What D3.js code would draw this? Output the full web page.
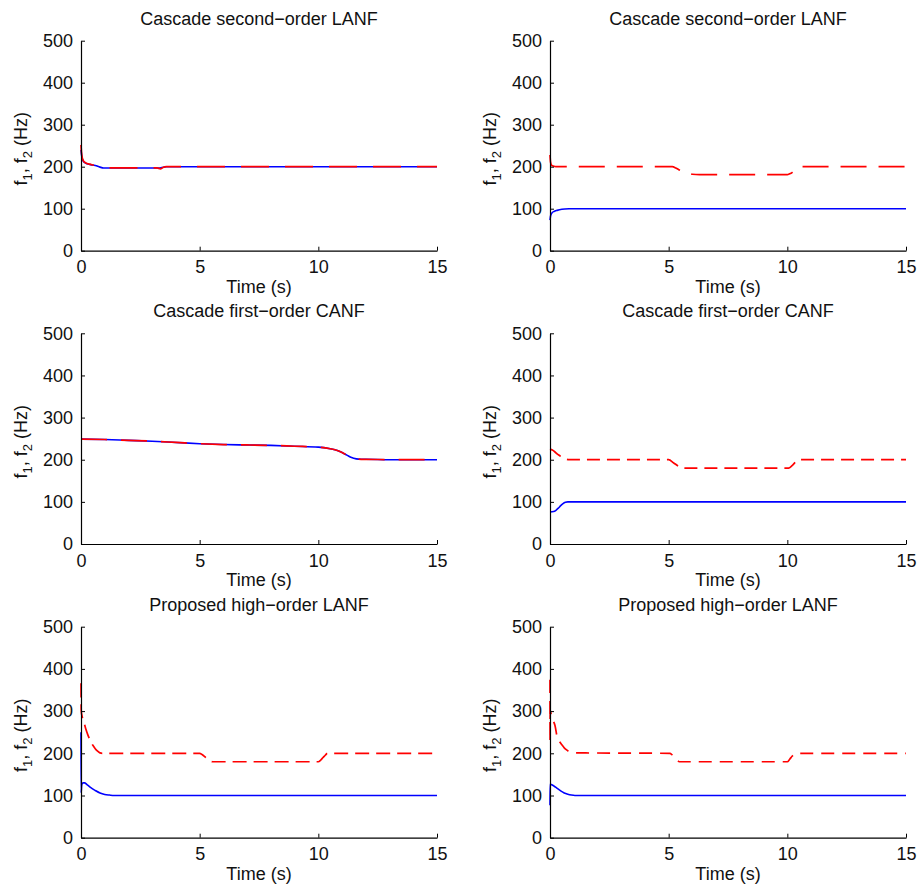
<!DOCTYPE html>
<html>
<head>
<meta charset="utf-8">
<script src="https://cdn.jsdelivr.net/npm/d3@7"></script>
<style>
  html, body { margin: 0; padding: 0; background: #fff; }
  svg { display: block; }
  text { font-family: "Liberation Sans", Arial, Helvetica, sans-serif; fill: #111; }
</style>
</head>
<body>
<svg id="chart" width="920" height="887"></svg>
<script>
// ---------------- DATA ----------------
const titles = [
  "Cascade second\u2212order LANF", "Cascade second\u2212order LANF",
  "Cascade first\u2212order CANF", "Cascade first\u2212order CANF",
  "Proposed high\u2212order LANF", "Proposed high\u2212order LANF"
];
const xTicks = [0, 5, 10, 15];
const yTicks = [0, 100, 200, 300, 400, 500];
const xLabel = "Time (s)";

// Panel 1: Cascade second-order LANF (left)
const p1_t1 = [0, 0.03, 0.08, 0.15, 0.25, 0.4, 0.6, 0.8, 0.95, 1.2, 2, 3.3, 3.4, 3.6, 5, 10, 15];
const p1_f1 = [240, 225, 215, 210, 207, 205, 203, 199, 197, 197, 197, 197, 198, 200, 200, 200, 200];
const p1_t2 = [0, 0.02, 0.05, 0.1, 0.2, 0.35, 0.5, 0.7, 0.95, 1.2, 2, 3.2, 3.35, 3.45, 3.6, 5, 10, 15];
const p1_f2 = [252, 235, 222, 214, 209, 206, 204, 202, 197, 197, 197, 197, 195, 198, 200, 200, 200, 200];

// Panel 2: Cascade second-order LANF (right)
const p2_t1 = [0, 0.02, 0.05, 0.1, 0.17, 0.3, 0.5, 0.8, 1.0, 5, 15];
const p2_f1 = [73, 82, 87, 91, 93.5, 96, 98.5, 99.8, 100, 100, 100];
const p2_t2 = [0, 0.02, 0.05, 0.1, 0.2, 0.3, 1, 5.15, 5.3, 5.45, 5.6, 5.8, 6.0, 6.3, 10.0, 10.1, 10.2, 10.3, 10.4, 10.5, 15];
const p2_f2 = [228, 212, 205, 202, 200.5, 200, 200, 200, 197, 192, 187, 184, 182, 181, 181, 183, 186, 191, 196, 200, 200];

// Panel 3: Cascade first-order CANF (left)
const p3_t1 = [0, 1, 2, 3, 4, 5, 6, 7, 8, 9, 10, 10.5, 10.8, 11, 11.2, 11.4, 11.6, 11.8, 12, 13, 15];
const p3_f1 = [249, 248, 246, 244, 241, 238, 236, 235, 234, 232, 230, 226, 222, 217, 211, 205, 202, 201, 201, 200, 200];
const p3_t2 = [0, 1, 2, 3, 4, 5, 6, 7, 8, 9, 10, 10.5, 10.8, 11, 11.2, 11.4, 11.6, 11.8, 12, 13, 15];
const p3_f2 = [249, 248, 246, 244, 241, 238, 236, 235, 234, 232, 230, 226, 222, 217, 211, 205, 202, 201, 201, 200, 200];

// Panel 4: Cascade first-order CANF (right)
const p4_t1 = [0, 0.15, 0.25, 0.35, 0.45, 0.55, 0.65, 0.75, 1, 15];
const p4_f1 = [76, 77, 80, 85, 91, 96, 99, 100, 100, 100];
const p4_t2 = [0, 0.1, 0.2, 0.3, 0.4, 0.5, 0.6, 0.7, 0.8, 5.0, 5.2, 5.4, 5.55, 10.05, 10.2, 10.35, 10.45, 15];
const p4_f2 = [225, 223, 219, 214, 210, 206, 203, 201, 200, 200, 193, 185, 180, 180, 186, 195, 200, 200];

// Panel 5: Proposed high-order LANF (left)
const p5_t1 = [0, 0.005, 0.03, 0.08, 0.15, 0.25, 0.4, 0.6, 0.8, 1.0, 1.2, 1.4, 15];
const p5_f1 = [250, 106, 125, 130, 130, 126, 119, 112, 106, 102.5, 101, 100, 100];
const p5_t2 = [0, 0.01, 0.05, 0.1, 0.2, 0.3, 0.4, 0.5, 0.6, 0.7, 0.8, 0.9, 5.0, 5.1, 5.25, 5.4, 5.55, 10.0, 10.1, 10.2, 10.3, 10.38, 15];
const p5_f2 = [366, 300, 287, 279, 258, 242, 229, 219, 211, 205, 201, 200, 200, 197, 190, 183, 180, 180, 184, 190, 196, 200, 200];

// Panel 6: Proposed high-order LANF (right)
const p6_t1 = [0, 0.005, 0.05, 0.15, 0.3, 0.45, 0.6, 0.75, 0.9, 1.05, 15];
const p6_f1 = [77, 127, 126, 123, 117, 111, 106, 103, 101, 100, 100];
const p6_t2 = [0, 0.003, 0.006, 0.05, 0.1, 0.21, 0.31, 0.4, 0.5, 0.6, 0.7, 0.8, 0.95, 5.05, 5.15, 5.25, 5.35, 5.45, 10.0, 10.1, 10.2, 10.3, 10.4, 15];
const p6_f2 = [374, 228, 302, 292, 282, 266, 237, 228, 220, 213, 208, 204, 201, 200, 196, 190, 184, 180, 180, 186, 193, 198, 200, 200];

// ---------------- LAYOUT ----------------
const panels = [
  { t1: p1_t1, f1: p1_f1, t2: p1_t2, f2: p1_f2, dash: "28,16" },
  { t1: p2_t1, f1: p2_f1, t2: p2_t2, f2: p2_f2, dash: "26,12" },
  { t1: p3_t1, f1: p3_f1, t2: p3_t2, f2: p3_f2, dash: "26,14" },
  { t1: p4_t1, f1: p4_f1, t2: p4_t2, f2: p4_f2, dash: "13,7" },
  { t1: p5_t1, f1: p5_f1, t2: p5_t2, f2: p5_f2, dash: "14,7" },
  { t1: p6_t1, f1: p6_f1, t2: p6_t2, f2: p6_f2, dash: "13,8" }
];
const colX = [[81, 437], [550, 906]];
const rowY = [[40.7, 250.7], [333.3, 544], [626.7, 837.7]];

const svg = d3.select("#chart");
const FS = 18;

panels.forEach((p, i) => {
  const col = i % 2, row = Math.floor(i / 2);
  const [x0, x1] = colX[col];
  const [yTop, yBot] = rowY[row];
  const x = d3.scaleLinear().domain([0, 15]).range([x0, x1]);
  const y = d3.scaleLinear().domain([0, 500]).range([yBot, yTop]);
  const g = svg.append("g");

  // lines
  const line = d3.line().x(d => x(d[0])).y(d => y(d[1])).curve(d3.curveMonotoneX);
  const s1 = p.t1.map((t, k) => [t, p.f1[k]]);
  const s2 = p.t2.map((t, k) => [t, p.f2[k]]);
  g.append("path").datum(s1).attr("d", line)
    .attr("fill", "none").attr("stroke", "#0000ff").attr("stroke-width", 1.6);
  g.append("path").datum(s2).attr("d", line)
    .attr("fill", "none").attr("stroke", "#ff0000").attr("stroke-width", 1.7)
    .attr("stroke-dasharray", p.dash);

  // x axis
  const xAxis = d3.axisBottom(x).tickValues(xTicks).tickSizeInner(-4).tickSizeOuter(0).tickPadding(10);
  const gx = g.append("g").attr("transform", `translate(0,${yBot})`).call(xAxis);
  // y axis
  const yAxis = d3.axisLeft(y).tickValues(yTicks).tickSizeInner(-4).tickSizeOuter(0).tickPadding(8);
  const gy = g.append("g").attr("transform", `translate(${x0},0)`).call(yAxis);
  [gx, gy].forEach(a => {
    a.select(".domain").attr("stroke", "#000").attr("stroke-width", 1.2);
    a.selectAll(".tick line").attr("stroke", "#000").attr("stroke-width", 1);
    a.selectAll(".tick text").style("font-size", FS + "px")
      .style("font-family", "'Liberation Sans', Arial, sans-serif").attr("fill", "#111");
  });

  // title
  g.append("text").attr("x", (x0 + x1) / 2).attr("y", yTop - 16)
    .attr("text-anchor", "middle").style("font-size", FS + "px").text(titles[i]);
  // x label
  g.append("text").attr("x", (x0 + x1) / 2).attr("y", yBot + 42)
    .attr("text-anchor", "middle").style("font-size", FS + "px").text(xLabel);
  // y label with subscripts
  const yl = g.append("text")
    .attr("transform", `translate(${x0 - 54},${(yTop + yBot) / 2 + 3}) rotate(-90)`)
    .attr("text-anchor", "middle").style("font-size", FS + "px");
  yl.append("tspan").text("f");
  yl.append("tspan").attr("dy", 5).style("font-size", "13px").text("1");
  yl.append("tspan").attr("dy", -5).text(", f");
  yl.append("tspan").attr("dy", 5).style("font-size", "13px").text("2");
  yl.append("tspan").attr("dy", -5).text(" (Hz)");
});
</script>
</body>
</html>
